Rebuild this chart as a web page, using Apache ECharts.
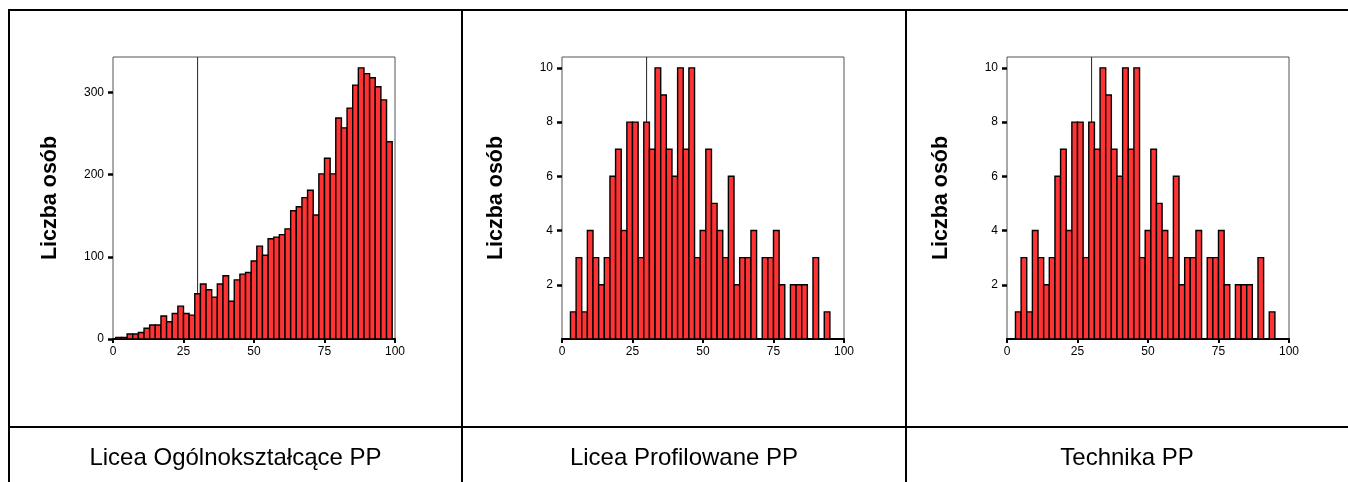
<!DOCTYPE html>
<html>
<head>
<meta charset="utf-8">
<script src="https://cdn.jsdelivr.net/npm/echarts@6/dist/echarts.min.js"></script>
<style>
  html, body { margin: 0; padding: 0; background: #fff; }
  #chart { width: 1348px; height: 482px; }
</style>
</head>
<body>
<div id="chart"></div>
<script>
// Score distributions (percent of max points) for three school types
const panelTitles = ['Licea Ogólnokształcące PP', 'Licea Profilowane PP', 'Technika PP'];
const yAxisTitle = 'Liczba osób';
const xTickLabels = [0, 25, 50, 75, 100];
const cutScore = 30;

// Bin centres and counts: Licea Ogólnokształcące
const loScores = [2, 4, 6, 8, 10, 12, 14, 16, 18, 20, 22, 24, 26, 28, 30, 32, 34, 36, 38, 40,
  42, 44, 46, 48, 50, 52, 54, 56, 58, 60, 62, 64, 66, 68, 70, 72, 74, 76, 78, 80,
  82, 84, 86, 88, 90, 92, 94, 96, 98];
const loCounts = [2, 2, 6, 6, 8, 13, 17, 17, 28, 21, 31, 40, 31, 29, 55, 67, 60, 51, 67, 77,
  46, 72, 79, 81, 95, 113, 102, 122, 124, 127, 134, 156, 161, 172, 181, 151, 201, 220, 201, 269,
  257, 281, 309, 330, 323, 318, 307, 291, 240];
const loYTicks = [0, 100, 200, 300];

// Bin centres and counts: Licea Profilowane
const lpScores = [4, 6, 8, 10, 12, 14, 16, 18, 20, 22, 24, 26, 28, 30, 32, 34, 36, 38, 40, 42,
  44, 46, 48, 50, 52, 54, 56, 58, 60, 62, 64, 66, 68, 70, 72, 74, 76, 78, 80, 82,
  84, 86, 88, 90, 92, 94];
const lpCounts = [1, 3, 1, 4, 3, 2, 3, 6, 7, 4, 8, 8, 3, 8, 7, 10, 9, 7, 6, 10,
  7, 10, 3, 4, 7, 5, 4, 3, 6, 2, 3, 3, 4, 0, 3, 3, 4, 2, 0, 2,
  2, 2, 0, 3, 0, 1];
const lpYTicks = [2, 4, 6, 8, 10];

// Bin centres and counts: Technika
const tScores = [4, 6, 8, 10, 12, 14, 16, 18, 20, 22, 24, 26, 28, 30, 32, 34, 36, 38, 40, 42,
  44, 46, 48, 50, 52, 54, 56, 58, 60, 62, 64, 66, 68, 70, 72, 74, 76, 78, 80, 82,
  84, 86, 88, 90, 92, 94];
const tCounts = [1, 3, 1, 4, 3, 2, 3, 6, 7, 4, 8, 8, 3, 8, 7, 10, 9, 7, 6, 10,
  7, 10, 3, 4, 7, 5, 4, 3, 6, 2, 3, 3, 4, 0, 3, 3, 4, 2, 0, 2,
  2, 2, 0, 3, 0, 1];
const tYTicks = [2, 4, 6, 8, 10];

const panels = [
  { scores: loScores, counts: loCounts, yTicks: loYTicks, left: 113, nameGap: 52 },
  { scores: lpScores, counts: lpCounts, yTicks: lpYTicks, left: 562, nameGap: 55 },
  { scores: tScores, counts: tCounts, yTicks: tYTicks, left: 1007, nameGap: 55 }
];

const FONT = '"Liberation Sans", Arial, sans-serif';
const BIN = 2;
const PLOT_TOP = 57;
const PLOT_SIZE = 282;

const grid = [], xAxis = [], yAxis = [], series = [];

panels.forEach((p, i) => {
  const yMax = Math.max(...p.counts) * 1.04;
  grid.push({
    left: p.left, top: PLOT_TOP, width: PLOT_SIZE, height: PLOT_SIZE,
    show: true, borderColor: '#555', borderWidth: 1, backgroundColor: 'transparent'
  });
  xAxis.push({
    type: 'value', gridIndex: i, min: 0, max: 100, interval: 25,
    axisLine: { show: true, lineStyle: { color: '#000', width: 2 } },
    axisTick: { show: true, length: 4, lineStyle: { color: '#000', width: 2 }, customValues: xTickLabels },
    axisLabel: { color: '#000', fontSize: 12, fontFamily: FONT, margin: 7, customValues: xTickLabels },
    splitLine: { show: false }
  });
  yAxis.push({
    type: 'value', gridIndex: i, min: 0, max: yMax,
    name: yAxisTitle, nameLocation: 'middle', nameGap: p.nameGap, nameRotate: 90,
    nameTextStyle: { color: '#000', fontSize: 21.5, fontWeight: 'bold', fontFamily: FONT },
    axisLine: { show: false },
    axisTick: { show: true, length: 5, lineStyle: { color: '#000', width: 2.5 }, customValues: p.yTicks },
    axisLabel: { color: '#000', fontSize: 12, fontFamily: FONT, margin: 9, customValues: p.yTicks },
    splitLine: { show: false }
  });
  // reference line at the cut score, drawn beneath the bars
  series.push({
    type: 'line', xAxisIndex: i, yAxisIndex: i, z: 1, silent: true,
    symbol: 'none', animation: false,
    lineStyle: { color: '#222', width: 1 },
    data: [[cutScore, 0], [cutScore, yMax]]
  });
  series.push({
    type: 'custom', xAxisIndex: i, yAxisIndex: i, z: 2, animation: false,
    encode: { x: 0, y: 1 },
    data: p.scores.map((s, k) => [s, p.counts[k]]),
    renderItem: function (params, api) {
      const c = api.value(0), v = api.value(1);
      if (!v) return null;
      const a = api.coord([c - BIN / 2, v]);
      const b = api.coord([c + BIN / 2, 0]);
      return {
        type: 'rect',
        shape: { x: a[0], y: a[1], width: b[0] - a[0], height: b[1] - a[1] },
        style: { fill: '#ff3333', stroke: '#000', lineWidth: 1.4 }
      };
    }
  });
});

// table frame around the three panels and caption row
const border = { stroke: '#000', lineWidth: 2 };
const graphic = [
  { type: 'line', shape: { x1: 8, y1: 10, x2: 1348, y2: 10 }, style: border },
  { type: 'line', shape: { x1: 9, y1: 9, x2: 9, y2: 482 }, style: border },
  { type: 'line', shape: { x1: 462, y1: 10, x2: 462, y2: 482 }, style: border },
  { type: 'line', shape: { x1: 906, y1: 10, x2: 906, y2: 482 }, style: border },
  { type: 'line', shape: { x1: 8, y1: 427, x2: 1348, y2: 427 }, style: border }
];
const captionCenters = [235.5, 684, 1127];
panelTitles.forEach((t, i) => {
  graphic.push({
    type: 'text', x: captionCenters[i], y: 458,
    style: { text: t, fill: '#000', font: '24px ' + FONT, textAlign: 'center', textVerticalAlign: 'middle' }
  });
});

const chart = echarts.init(document.getElementById('chart'), null, { renderer: 'canvas' });
chart.setOption({
  animation: false,
  backgroundColor: '#fff',
  grid, xAxis, yAxis, series, graphic
});
</script>
</body>
</html>
